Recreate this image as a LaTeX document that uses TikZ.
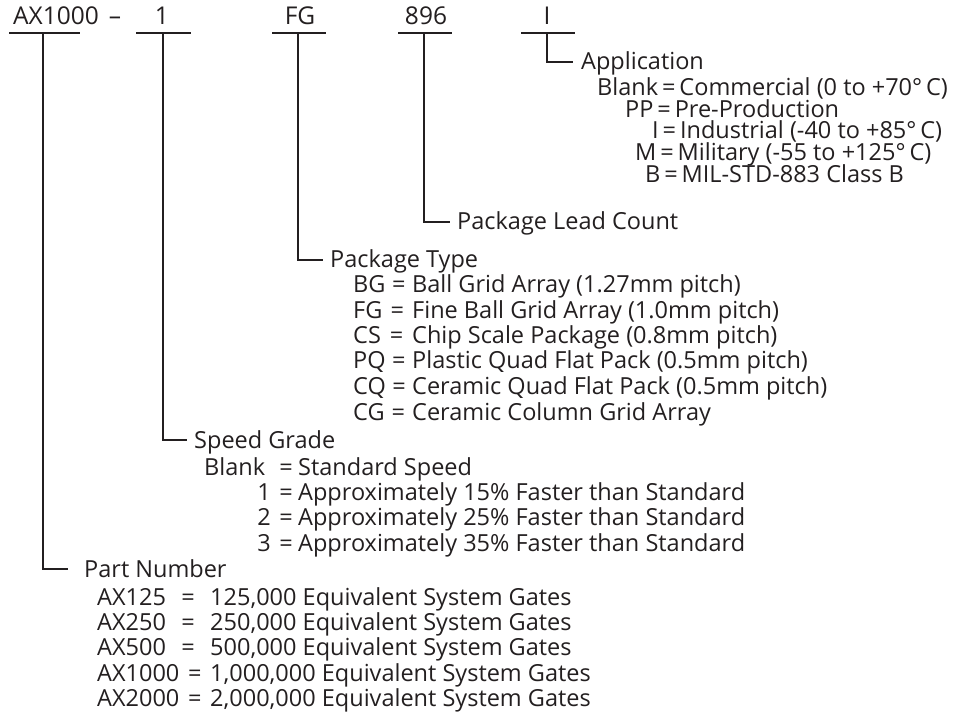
\documentclass[tikz,border=0pt]{standalone}
\usepackage{fontspec}
\setmainfont{Open Sans}
\usetikzlibrary{calc}
\definecolor{ink}{HTML}{231F20}
\begin{document}
\begin{tikzpicture}[x=1pt,y=-1pt,
  txt/.style={font=\fontsize{23.5}{25}\selectfont, inner sep=0pt, text=ink, anchor=base west},
  code/.style={font=\fontsize{24.5}{26}\selectfont, inner sep=0pt, text=ink, anchor=base},
  eqs/.style={txt, anchor=base},
  lbl/.style={txt, anchor=base east},
  bar/.style={draw=ink, line width=2.7pt, line join=miter}]
\useasboundingbox (0,0) rectangle (958,719);
% top code row
\node[code, anchor=base west] (c1) at (13,25) {AX1000};
\node[code] (dash) at (115,25) {–};
\node[code] (c2) at (162,25) {1};
\node[code] (c3) at (300,25) {FG};
\node[code] (c4) at (426,25) {896};
\node[code] (c5) at (547,25) {I};
% underlines
\draw[bar] (9,33) -- (80,33);
\draw[bar] (136,33) -- (191,33);
\draw[bar] (272,33) -- (326,33);
\draw[bar] (398,33) -- (452,33);
\draw[bar] (521,33) -- (575,33);
\coordinate (t1) at (43,33);
\coordinate (t2) at (163,33);
\coordinate (t3) at (298,33);
\coordinate (t4) at (424,33);
\coordinate (t5) at (547,33);
% headings
\node[txt] (app) at (581,70) {Application};
\node[txt] (plc) at (457,230) {Package Lead Count};
\node[txt] (pt) at (330,268) {Package Type};
\node[txt] (sg) at (194,448) {Speed Grade};
\node[txt] (pn) at (84,577) {Part Number};
% elbows
\draw[bar] (t5) |- ([xshift=-8pt,yshift=8pt]app.base west);
\draw[bar] (t4) |- ([xshift=-7pt,yshift=8pt]plc.base west);
\draw[bar] (t3) |- ([xshift=-7pt,yshift=8pt]pt.base west);
\draw[bar] (t2) |- ([xshift=-7pt,yshift=8pt]sg.base west);
\draw[bar] (t1) |- ([xshift=-16pt,yshift=8pt]pn.base west);
% application list
\node[txt] (a1) at (597,96) {Blank\,=\,Commercial (0 to +70°\,C)};
\node[txt] (a2) at (625,118) {PP\,=\,Pre-Production};
\node[txt] (a3) at (652,139) {I\,=\,Industrial (-40 to +85°\,C)};
\node[txt] (a4) at (635,161) {M\,=\,Military (-55 to +125°\,C)};
\node[txt] (a5) at (645,183) {B\,=\,MIL-STD-883 Class B};
% package type list
\foreach \n/\l/\t/\y in {1/BG/Ball Grid Array (1.27mm pitch)/293,
                          2/FG/Fine Ball Grid Array (1.0mm pitch)/318,
                          3/CS/Chip Scale Package (0.8mm pitch)/343,
                          4/PQ/Plastic Quad Flat Pack (0.5mm pitch)/368,
                          5/CQ/Ceramic Quad Flat Pack (0.5mm pitch)/394,
                          6/CG/Ceramic Column Grid Array/420}{
  \node[txt] (p\n l) at (353,\y) {\l};
  \node[txt] (p\n t) at (412,\y) {\t};
  \node[eqs] (p\n e) at ($(p\n l.base east)!0.5!(p\n t.base west)$) {=};
}
% speed grade list
\node[txt] (s1l) at (204,475) {Blank};
\node[eqs] (s1e) at (286,475) {=};
\node[txt] (s1t) at (298,475) {Standard Speed};
\foreach \n/\l/\p/\y in {2/1/15/500, 3/2/25/525, 4/3/35/551}{
  \node[lbl] (s\n l) at (271,\y) {\l};
  \node[eqs] (s\n e) at (286,\y) {=};
  \node[txt] (s\n t) at (298,\y) {Approximately \p\% Faster than Standard};
}
% part number list
\foreach \n/\l/\g/\y in {1/AX125/{125,000}/605, 2/AX250/{250,000}/630, 3/AX500/{500,000}/655,
                          4/AX1000/{1,000,000}/681, 5/AX2000/{2,000,000}/706}{
  \node[txt] (n\n l) at (97,\y) {\l};
  \node[txt] (n\n t) at (210,\y) {\g\ Equivalent System Gates};
  \node[eqs] (n\n e) at ($(n\n l.base east)!0.5!(n\n t.base west)$) {=};
}
\end{tikzpicture}
\end{document}
